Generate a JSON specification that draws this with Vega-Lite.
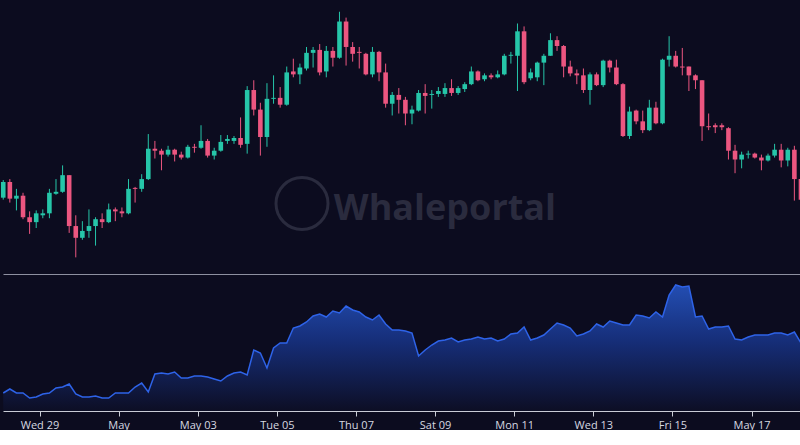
{
  "$schema": "https://vega.github.io/schema/vega-lite/v6.json",
  "background": "#0c0c1f",
  "padding": 0,
  "spacing": 0,
  "config": {"view": {"stroke": null}},
  "datasets": {
    "ohlc": [
      {"t":"2020-04-28T00:00:00Z","o":7980,"h":8160,"l":7960,"c":8140,"v":18},
      {"t":"2020-04-28T04:00:00Z","o":8140,"h":8170,"l":7930,"c":7970,"v":22},
      {"t":"2020-04-28T08:00:00Z","o":7970,"h":8070,"l":7850,"c":8000,"v":18},
      {"t":"2020-04-28T12:00:00Z","o":8000,"h":8030,"l":7760,"c":7780,"v":18},
      {"t":"2020-04-28T16:00:00Z","o":7780,"h":7840,"l":7610,"c":7730,"v":13},
      {"t":"2020-04-28T20:00:00Z","o":7730,"h":7850,"l":7670,"c":7820,"v":14},
      {"t":"2020-04-29T00:00:00Z","o":7800,"h":7860,"l":7770,"c":7820,"v":17},
      {"t":"2020-04-29T04:00:00Z","o":7820,"h":8070,"l":7770,"c":8030,"v":18},
      {"t":"2020-04-29T08:00:00Z","o":8020,"h":8170,"l":8010,"c":8040,"v":23},
      {"t":"2020-04-29T12:00:00Z","o":8040,"h":8310,"l":8030,"c":8210,"v":24},
      {"t":"2020-04-29T16:00:00Z","o":8210,"h":8210,"l":7620,"c":7690,"v":27},
      {"t":"2020-04-29T20:00:00Z","o":7690,"h":7800,"l":7370,"c":7570,"v":17},
      {"t":"2020-04-30T00:00:00Z","o":7570,"h":7740,"l":7550,"c":7640,"v":14},
      {"t":"2020-04-30T04:00:00Z","o":7640,"h":7860,"l":7570,"c":7690,"v":14},
      {"t":"2020-04-30T08:00:00Z","o":7690,"h":7780,"l":7490,"c":7760,"v":15},
      {"t":"2020-04-30T12:00:00Z","o":7760,"h":7820,"l":7670,"c":7730,"v":13},
      {"t":"2020-04-30T16:00:00Z","o":7730,"h":7920,"l":7720,"c":7860,"v":13},
      {"t":"2020-04-30T20:00:00Z","o":7860,"h":7880,"l":7740,"c":7840,"v":18},
      {"t":"2020-05-01T00:00:00Z","o":7840,"h":7880,"l":7780,"c":7820,"v":18},
      {"t":"2020-05-01T04:00:00Z","o":7820,"h":8170,"l":7810,"c":8070,"v":18},
      {"t":"2020-05-01T08:00:00Z","o":8080,"h":8090,"l":7930,"c":8070,"v":24},
      {"t":"2020-05-01T12:00:00Z","o":8070,"h":8220,"l":8040,"c":8170,"v":28},
      {"t":"2020-05-01T16:00:00Z","o":8170,"h":8630,"l":8160,"c":8480,"v":19},
      {"t":"2020-05-01T20:00:00Z","o":8480,"h":8560,"l":8380,"c":8460,"v":37},
      {"t":"2020-05-02T00:00:00Z","o":8460,"h":8480,"l":8260,"c":8420,"v":38},
      {"t":"2020-05-02T04:00:00Z","o":8420,"h":8510,"l":8400,"c":8470,"v":37},
      {"t":"2020-05-02T08:00:00Z","o":8470,"h":8480,"l":8350,"c":8420,"v":39},
      {"t":"2020-05-02T12:00:00Z","o":8420,"h":8450,"l":8370,"c":8390,"v":33},
      {"t":"2020-05-02T16:00:00Z","o":8390,"h":8520,"l":8380,"c":8500,"v":33},
      {"t":"2020-05-02T20:00:00Z","o":8500,"h":8530,"l":8440,"c":8490,"v":35},
      {"t":"2020-05-03T00:00:00Z","o":8490,"h":8720,"l":8480,"c":8560,"v":35},
      {"t":"2020-05-03T04:00:00Z","o":8560,"h":8580,"l":8390,"c":8410,"v":34},
      {"t":"2020-05-03T08:00:00Z","o":8410,"h":8490,"l":8370,"c":8460,"v":32},
      {"t":"2020-05-03T12:00:00Z","o":8460,"h":8620,"l":8450,"c":8550,"v":30},
      {"t":"2020-05-03T16:00:00Z","o":8560,"h":8620,"l":8530,"c":8580,"v":35},
      {"t":"2020-05-03T20:00:00Z","o":8560,"h":8610,"l":8530,"c":8590,"v":38},
      {"t":"2020-05-04T00:00:00Z","o":8590,"h":8800,"l":8490,"c":8520,"v":39},
      {"t":"2020-05-04T04:00:00Z","o":8530,"h":9120,"l":8430,"c":9080,"v":36},
      {"t":"2020-05-04T08:00:00Z","o":9080,"h":9180,"l":8820,"c":8880,"v":61},
      {"t":"2020-05-04T12:00:00Z","o":8880,"h":8950,"l":8410,"c":8600,"v":58},
      {"t":"2020-05-04T16:00:00Z","o":8600,"h":9150,"l":8500,"c":8990,"v":43},
      {"t":"2020-05-04T20:00:00Z","o":8990,"h":9230,"l":8940,"c":9000,"v":63},
      {"t":"2020-05-05T00:00:00Z","o":9000,"h":9110,"l":8900,"c":8930,"v":68},
      {"t":"2020-05-05T04:00:00Z","o":8930,"h":9320,"l":8920,"c":9260,"v":68},
      {"t":"2020-05-05T08:00:00Z","o":9270,"h":9400,"l":9210,"c":9240,"v":83},
      {"t":"2020-05-05T12:00:00Z","o":9240,"h":9350,"l":9140,"c":9310,"v":85},
      {"t":"2020-05-05T16:00:00Z","o":9300,"h":9520,"l":9280,"c":9460,"v":89},
      {"t":"2020-05-05T20:00:00Z","o":9460,"h":9520,"l":9310,"c":9490,"v":95},
      {"t":"2020-05-06T00:00:00Z","o":9490,"h":9550,"l":9230,"c":9260,"v":97},
      {"t":"2020-05-06T04:00:00Z","o":9270,"h":9530,"l":9210,"c":9480,"v":94},
      {"t":"2020-05-06T08:00:00Z","o":9480,"h":9520,"l":9320,"c":9410,"v":100},
      {"t":"2020-05-06T12:00:00Z","o":9410,"h":9880,"l":9400,"c":9780,"v":98},
      {"t":"2020-05-06T16:00:00Z","o":9780,"h":9820,"l":9330,"c":9520,"v":105},
      {"t":"2020-05-06T20:00:00Z","o":9520,"h":9570,"l":9370,"c":9450,"v":101},
      {"t":"2020-05-07T00:00:00Z","o":9470,"h":9520,"l":9300,"c":9460,"v":99},
      {"t":"2020-05-07T04:00:00Z","o":9450,"h":9460,"l":9230,"c":9240,"v":94},
      {"t":"2020-05-07T08:00:00Z","o":9240,"h":9520,"l":9210,"c":9470,"v":91},
      {"t":"2020-05-07T12:00:00Z","o":9470,"h":9480,"l":9170,"c":9260,"v":96},
      {"t":"2020-05-07T16:00:00Z","o":9260,"h":9350,"l":8900,"c":8940,"v":87},
      {"t":"2020-05-07T20:00:00Z","o":8940,"h":9060,"l":8820,"c":9030,"v":81},
      {"t":"2020-05-08T00:00:00Z","o":9030,"h":9100,"l":8840,"c":8980,"v":81},
      {"t":"2020-05-08T04:00:00Z","o":8980,"h":9010,"l":8720,"c":8840,"v":80},
      {"t":"2020-05-08T08:00:00Z","o":8840,"h":8920,"l":8730,"c":8880,"v":78},
      {"t":"2020-05-08T12:00:00Z","o":8870,"h":9080,"l":8860,"c":9050,"v":55},
      {"t":"2020-05-08T16:00:00Z","o":9050,"h":9140,"l":8840,"c":9020,"v":61},
      {"t":"2020-05-08T20:00:00Z","o":9030,"h":9080,"l":8890,"c":9040,"v":66},
      {"t":"2020-05-09T00:00:00Z","o":9040,"h":9110,"l":9010,"c":9070,"v":70},
      {"t":"2020-05-09T04:00:00Z","o":9040,"h":9150,"l":9010,"c":9100,"v":71},
      {"t":"2020-05-09T08:00:00Z","o":9100,"h":9190,"l":9020,"c":9050,"v":73},
      {"t":"2020-05-09T12:00:00Z","o":9050,"h":9120,"l":9030,"c":9100,"v":69},
      {"t":"2020-05-09T16:00:00Z","o":9090,"h":9160,"l":9060,"c":9140,"v":71},
      {"t":"2020-05-09T20:00:00Z","o":9140,"h":9320,"l":9130,"c":9270,"v":72},
      {"t":"2020-05-10T00:00:00Z","o":9270,"h":9280,"l":9170,"c":9180,"v":74},
      {"t":"2020-05-10T04:00:00Z","o":9190,"h":9250,"l":9170,"c":9230,"v":72},
      {"t":"2020-05-10T08:00:00Z","o":9230,"h":9250,"l":9190,"c":9210,"v":73},
      {"t":"2020-05-10T12:00:00Z","o":9210,"h":9280,"l":9200,"c":9240,"v":70},
      {"t":"2020-05-10T16:00:00Z","o":9240,"h":9450,"l":9230,"c":9430,"v":72},
      {"t":"2020-05-10T20:00:00Z","o":9430,"h":9470,"l":9350,"c":9440,"v":77},
      {"t":"2020-05-11T00:00:00Z","o":9430,"h":9760,"l":9070,"c":9680,"v":78},
      {"t":"2020-05-11T04:00:00Z","o":9680,"h":9730,"l":9140,"c":9160,"v":84},
      {"t":"2020-05-11T08:00:00Z","o":9200,"h":9300,"l":9180,"c":9260,"v":71},
      {"t":"2020-05-11T12:00:00Z","o":9210,"h":9370,"l":9170,"c":9360,"v":73},
      {"t":"2020-05-11T16:00:00Z","o":9360,"h":9450,"l":9130,"c":9430,"v":76},
      {"t":"2020-05-11T20:00:00Z","o":9430,"h":9660,"l":9430,"c":9590,"v":82},
      {"t":"2020-05-12T00:00:00Z","o":9590,"h":9630,"l":9480,"c":9530,"v":88},
      {"t":"2020-05-12T04:00:00Z","o":9530,"h":9540,"l":9210,"c":9320,"v":86},
      {"t":"2020-05-12T08:00:00Z","o":9320,"h":9380,"l":9220,"c":9250,"v":83},
      {"t":"2020-05-12T12:00:00Z","o":9250,"h":9290,"l":9140,"c":9230,"v":75},
      {"t":"2020-05-12T16:00:00Z","o":9230,"h":9300,"l":9050,"c":9080,"v":77},
      {"t":"2020-05-12T20:00:00Z","o":9080,"h":9260,"l":8930,"c":9240,"v":80},
      {"t":"2020-05-13T00:00:00Z","o":9240,"h":9260,"l":9120,"c":9130,"v":87},
      {"t":"2020-05-13T04:00:00Z","o":9130,"h":9390,"l":9110,"c":9380,"v":84},
      {"t":"2020-05-13T08:00:00Z","o":9380,"h":9390,"l":9260,"c":9310,"v":90},
      {"t":"2020-05-13T12:00:00Z","o":9310,"h":9390,"l":9130,"c":9140,"v":88},
      {"t":"2020-05-13T16:00:00Z","o":9140,"h":9150,"l":8600,"c":8610,"v":86},
      {"t":"2020-05-13T20:00:00Z","o":8610,"h":8910,"l":8580,"c":8860,"v":86},
      {"t":"2020-05-14T00:00:00Z","o":8870,"h":8880,"l":8730,"c":8760,"v":96},
      {"t":"2020-05-14T04:00:00Z","o":8760,"h":8870,"l":8640,"c":8670,"v":95},
      {"t":"2020-05-14T08:00:00Z","o":8670,"h":8980,"l":8660,"c":8900,"v":93},
      {"t":"2020-05-14T12:00:00Z","o":8900,"h":8960,"l":8730,"c":8740,"v":99},
      {"t":"2020-05-14T16:00:00Z","o":8740,"h":9400,"l":8730,"c":9390,"v":94},
      {"t":"2020-05-14T20:00:00Z","o":9390,"h":9630,"l":9320,"c":9430,"v":116},
      {"t":"2020-05-15T00:00:00Z","o":9430,"h":9480,"l":9310,"c":9320,"v":126},
      {"t":"2020-05-15T04:00:00Z","o":9320,"h":9510,"l":9230,"c":9310,"v":124},
      {"t":"2020-05-15T08:00:00Z","o":9320,"h":9320,"l":9070,"c":9230,"v":125},
      {"t":"2020-05-15T12:00:00Z","o":9230,"h":9240,"l":9090,"c":9180,"v":94},
      {"t":"2020-05-15T16:00:00Z","o":9180,"h":9180,"l":8560,"c":8710,"v":95},
      {"t":"2020-05-15T20:00:00Z","o":8710,"h":8840,"l":8670,"c":8700,"v":82},
      {"t":"2020-05-16T00:00:00Z","o":8720,"h":8740,"l":8640,"c":8700,"v":84},
      {"t":"2020-05-16T04:00:00Z","o":8720,"h":8740,"l":8670,"c":8700,"v":84},
      {"t":"2020-05-16T08:00:00Z","o":8690,"h":8700,"l":8370,"c":8460,"v":85},
      {"t":"2020-05-16T12:00:00Z","o":8460,"h":8520,"l":8230,"c":8370,"v":72},
      {"t":"2020-05-16T16:00:00Z","o":8370,"h":8450,"l":8280,"c":8420,"v":71},
      {"t":"2020-05-16T20:00:00Z","o":8420,"h":8460,"l":8380,"c":8430,"v":74},
      {"t":"2020-05-17T00:00:00Z","o":8430,"h":8440,"l":8380,"c":8390,"v":76},
      {"t":"2020-05-17T04:00:00Z","o":8390,"h":8420,"l":8260,"c":8360,"v":76},
      {"t":"2020-05-17T08:00:00Z","o":8360,"h":8430,"l":8350,"c":8410,"v":76},
      {"t":"2020-05-17T12:00:00Z","o":8410,"h":8530,"l":8390,"c":8470,"v":78},
      {"t":"2020-05-17T16:00:00Z","o":8470,"h":8530,"l":8290,"c":8360,"v":78},
      {"t":"2020-05-17T20:00:00Z","o":8360,"h":8490,"l":8300,"c":8470,"v":76},
      {"t":"2020-05-18T00:00:00Z","o":8470,"h":8510,"l":7950,"c":8170,"v":79},
      {"t":"2020-05-18T04:00:00Z","o":8170,"h":8170,"l":7880,"c":7960,"v":68}
    ]
  },
  "vconcat": [
    {
      "width": 800,
      "height": 274,
      "layer": [
        {
          "data": {"values": [{"label": "Whaleportal"}]},
          "mark": {"type": "point", "shape": "circle", "filled": false, "size": 2704, "stroke": "#2a2b3e", "strokeWidth": 3, "opacity": 1},
          "encoding": {
            "x": {"datum": {"year": 2020, "month": 5, "date": 5, "hours": 13, "minutes": 16, "utc": true}, "type": "temporal", "scale": {"type": "utc", "domain": [{"year": 2020, "month": 4, "date": 27, "hours": 23, "minutes": 51, "utc": true}, {"year": 2020, "month": 5, "date": 18, "hours": 5, "minutes": 14, "utc": true}]}, "axis": {"labels": false, "ticks": false, "grid": false, "title": null, "domain": true, "domainColor": "#8e90a0", "domainWidth": 1}},
            "y": {"datum": 7920, "type": "quantitative", "scale": {"domain": [7260, 10000]}, "axis": null}
          }
        },
        {
          "data": {"values": [{"label": "Whaleportal"}]},
          "mark": {"type": "text", "font": "Open Sans", "fontWeight": "bold", "fontSize": 36, "color": "#2a2b3e", "align": "center", "baseline": "alphabetic"},
          "encoding": {
            "x": {"datum": {"year": 2020, "month": 5, "date": 9, "hours": 4, "minutes": 1, "utc": true}, "type": "temporal"},
            "y": {"datum": 7750, "type": "quantitative"},
            "text": {"field": "label"}
          }
        },
        {
          "data": {"name": "ohlc"},
          "mark": {"type": "rule", "strokeWidth": 1},
          "encoding": {
            "x": {"field": "t", "type": "temporal"},
            "y": {"field": "h", "type": "quantitative"},
            "y2": {"field": "l"},
            "color": {"condition": {"test": "datum.c >= datum.o", "value": "#26c6a9"}, "value": "#ec5680"}
          }
        },
        {
          "data": {"name": "ohlc"},
          "mark": {"type": "rule", "strokeWidth": 4.6, "strokeCap": "butt"},
          "encoding": {
            "x": {"field": "t", "type": "temporal"},
            "y": {"field": "o", "type": "quantitative"},
            "y2": {"field": "c"},
            "color": {"condition": {"test": "datum.c >= datum.o", "value": "#26c6a9"}, "value": "#ec5680"}
          }
        }
      ]
    },
    {
      "width": 800,
      "height": 137,
      "data": {"name": "ohlc"},
      "mark": {
        "type": "area",
        "line": {"color": "#2e63e8", "strokeWidth": 1.5},
        "color": {"gradient": "linear", "x1": 0, "y1": 0, "x2": 0, "y2": 1, "stops": [{"offset": 0, "color": "#2d6af2"}, {"offset": 0.45, "color": "#1a3c9e"}, {"offset": 1, "color": "#0d0f27"}]}
      },
      "encoding": {
        "x": {
          "field": "t", "type": "temporal",
          "scale": {"type": "utc", "domain": [{"year": 2020, "month": 4, "date": 27, "hours": 23, "minutes": 51, "utc": true}, {"year": 2020, "month": 5, "date": 18, "hours": 5, "minutes": 14, "utc": true}]},
          "axis": {
            "values": [
              {"year": 2020, "month": 4, "date": 28, "hours": 22, "utc": true},
              {"year": 2020, "month": 4, "date": 30, "hours": 22, "utc": true},
              {"year": 2020, "month": 5, "date": 2, "hours": 22, "utc": true},
              {"year": 2020, "month": 5, "date": 4, "hours": 22, "utc": true},
              {"year": 2020, "month": 5, "date": 6, "hours": 22, "utc": true},
              {"year": 2020, "month": 5, "date": 8, "hours": 22, "utc": true},
              {"year": 2020, "month": 5, "date": 10, "hours": 22, "utc": true},
              {"year": 2020, "month": 5, "date": 12, "hours": 22, "utc": true},
              {"year": 2020, "month": 5, "date": 14, "hours": 22, "utc": true},
              {"year": 2020, "month": 5, "date": 16, "hours": 22, "utc": true}
            ],
            "labelExpr": "utcdate(time(datum.value) + 7200000) == 1 ? utcFormat(time(datum.value) + 7200000, '%B') : (utcday(time(datum.value) + 7200000) == 0 ? utcFormat(time(datum.value) + 7200000, '%b %d') : utcFormat(time(datum.value) + 7200000, '%a %d'))",
            "title": null,
            "grid": false,
            "domainColor": "#c9ccd6",
            "tickColor": "#c9ccd6",
            "tickSize": 5,
            "labelColor": "#d6d8e0",
            "labelFont": "Open Sans",
            "labelFontSize": 11,
            "labelPadding": 3
          }
        },
        "y": {"field": "v", "type": "quantitative", "scale": {"domain": [0, 137]}, "axis": null}
      }
    }
  ]
}
